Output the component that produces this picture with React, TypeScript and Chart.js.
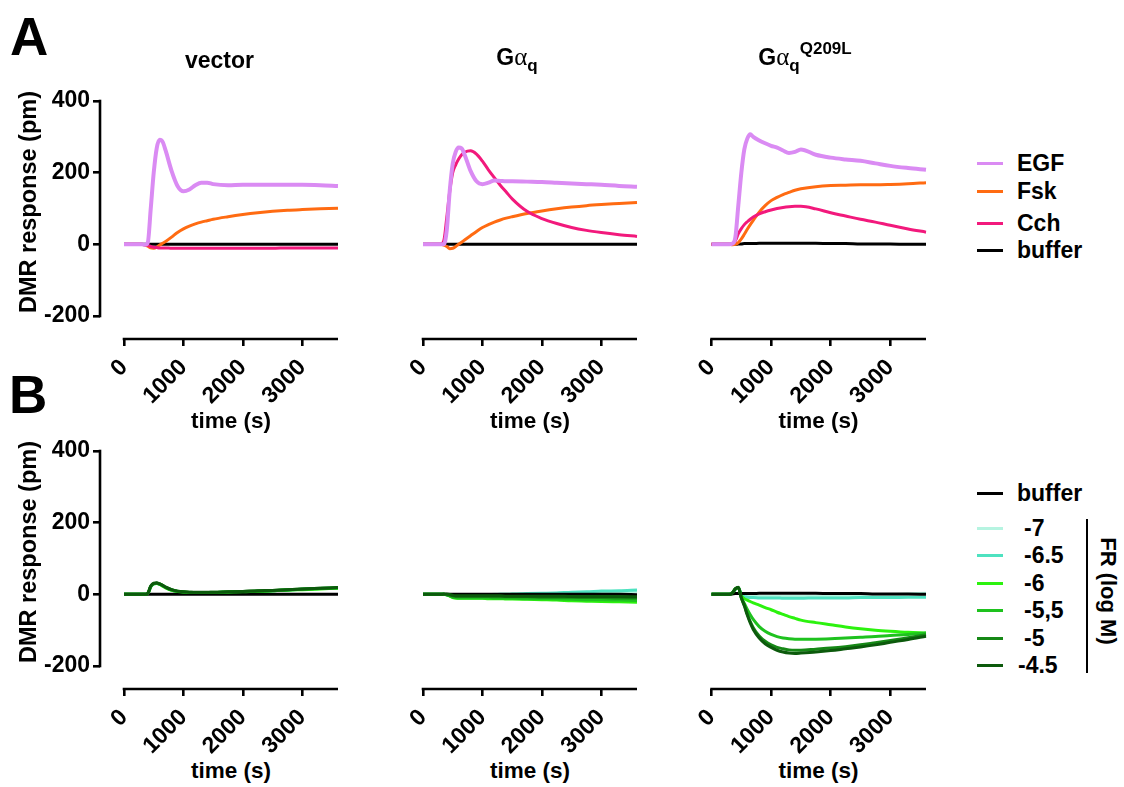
import React, { useEffect, useRef } from "react";
import { Chart, registerables } from "chart.js";

Chart.register(...registerables);

const FONT = '"Liberation Sans", Arial, Helvetica, sans-serif';
Chart.defaults.font.family = FONT;

// ---------- shared axes ----------
const TIME = [0, 300, 350, 400, 450, 500, 550, 600, 650, 700, 800, 900, 1000, 1100, 1200, 1300, 1400, 1500, 1750, 2000, 2250, 2500, 2750, 3000, 3300, 3600];
const X_TICKS = [0, 1000, 2000, 3000];
const Y_TICKS = [-200, 0, 200, 400];
const X_MAX = 3600;
const Y_MAX = 400;
const Y_LOW = -200;

// ---------- A: vector ----------
const VEC_EGF = [0, 0, -1, 5, 100, 200, 268, 292, 286, 262, 205, 163, 148, 153, 165, 172, 172, 168, 165, 166, 166, 166, 166, 166, 165, 163];
const VEC_FSK = [0, 0, -2, -5, -10, -11, -8, -2, 3, 8, 20, 33, 43, 51, 57, 62, 66, 70, 77, 83, 88, 92, 95, 97, 99, 101];
const VEC_CCH = [0, 0, -1, -3, -6, -8, -9, -10, -10, -10, -11, -11, -11, -11, -11, -11, -11, -11, -11, -11, -11, -11, -10, -10, -10, -10];
const VEC_BUF = [0, 0, 0, 0, 0, 0, 0, 0, 0, 0, 0, 0, 0, 0, 0, 0, 0, 0, 0, 0, 0, 0, 0, 0, 0, 0];

// ---------- A: Gaq ----------
const GQ_EGF = [0, 0, 0, 40, 150, 225, 258, 270, 268, 250, 205, 176, 168, 172, 178, 177, 176, 176, 175, 174, 172, 170, 168, 166, 163, 161];
const GQ_FSK = [0, 0, -2, -6, -12, -11, -6, 0, 6, 12, 24, 36, 47, 55, 62, 68, 73, 77, 86, 93, 99, 104, 108, 111, 114, 117];
const GQ_CCH = [0, 0, 10, 75, 148, 200, 222, 238, 250, 257, 261, 252, 232, 208, 186, 165, 146, 127, 92, 72, 58, 47, 39, 33, 27, 22];
const GQ_BUF = [0, 0, 0, 0, 0, 0, 0, 0, 0, 0, 0, 0, 0, 0, 0, 0, 0, 0, 0, 0, 0, 0, 0, 0, 0, 0];

// ---------- A: Gaq Q209L ----------
const QL_EGF = [0, 0, 2, 20, 110, 200, 265, 295, 307, 300, 290, 282, 275, 270, 262, 255, 258, 265, 250, 242, 237, 233, 226, 219, 213, 208];
const QL_FSK = [0, 0, -1, 0, 5, 15, 28, 42, 55, 67, 90, 108, 122, 131, 139, 145, 151, 155, 161, 164, 165, 166, 166, 167, 169, 172];
const QL_CCH = [0, 0, 2, 10, 30, 44, 55, 63, 70, 76, 85, 91, 96, 100, 103, 105, 106, 106, 99, 88, 79, 70, 62, 53, 43, 34];
const QL_BUF = [0, 0, 0, 0, 1, 1, 2, 2, 2, 2, 3, 3, 3, 3, 3, 3, 3, 3, 3, 2, 2, 1, 1, 1, 0, 0];

// ---------- B: vector + FR ----------
const VEC_FR_BUF = [0, 0, 0, 0, 0, 0, 0, 0, 0, 0, 0, 0, 0, 0, 0, 0, 0, 0, 0, 0, 0, 0, 0, 0, 0, 0];
const VEC_FR_7 = [0, 0, 0, 2, 20, 28, 30, 28, 24, 19, 12, 8, 6, 5, 5, 5, 5, 5, 6, 7, 9, 10, 12, 14, 16, 18];
const VEC_FR_65 = [0, 0, 0, 2, 21, 29, 31, 28, 24, 19, 12, 8, 6, 5, 5, 5, 5, 5, 6, 7, 8, 10, 12, 14, 16, 18];
const VEC_FR_6 = [0, 0, 0, 2, 21, 29, 30, 28, 23, 18, 11, 8, 6, 5, 4, 4, 5, 5, 6, 7, 8, 10, 12, 13, 15, 17];
const VEC_FR_55 = [0, 0, 0, 2, 22, 30, 31, 29, 24, 19, 12, 8, 6, 5, 5, 5, 5, 5, 6, 7, 9, 10, 12, 14, 16, 18];
const VEC_FR_5 = [0, 0, 0, 3, 22, 30, 31, 29, 25, 20, 13, 9, 7, 6, 5, 5, 5, 6, 7, 8, 9, 11, 13, 15, 17, 19];
const VEC_FR_45 = [0, 0, 0, 3, 23, 31, 32, 29, 25, 20, 13, 9, 7, 6, 6, 6, 6, 6, 7, 8, 10, 11, 13, 15, 17, 19];

// ---------- B: Gaq + FR ----------
const GQ_FR_BUF = [0, 0, 0, 0, 0, 0, 0, 0, 0, 0, 0, 0, 0, 0, 0, 0, 0, 0, 0, 0, 0, 0, 0, 0, 0, -1];
const GQ_FR_7 = [0, 0, 0, -1, -3, -4, -4, -3, -3, -3, -2, -2, -1, -1, 0, 0, 0, 1, 1, 2, 3, 4, 5, 6, 7, 8];
const GQ_FR_65 = [0, 0, 0, -1, -3, -5, -5, -4, -4, -3, -3, -2, -2, -1, -1, 0, 0, 1, 2, 3, 4, 6, 7, 9, 10, 12];
const GQ_FR_6 = [0, 0, 0, -1, -5, -9, -11, -11, -11, -11, -11, -11, -11, -12, -12, -12, -13, -13, -14, -15, -16, -18, -19, -20, -21, -22];
const GQ_FR_55 = [0, 0, 0, -1, -4, -8, -9, -10, -10, -10, -10, -10, -10, -10, -11, -11, -11, -11, -12, -12, -13, -14, -15, -15, -16, -17];
const GQ_FR_5 = [0, 0, 0, -1, -3, -5, -6, -6, -6, -6, -6, -6, -6, -6, -7, -7, -7, -7, -7, -8, -8, -8, -9, -9, -10, -10];
const GQ_FR_45 = [0, 0, 1, 1, 0, -3, -4, -4, -4, -4, -4, -4, -4, -4, -4, -4, -5, -5, -5, -5, -5, -6, -6, -6, -6, -7];

// ---------- B: Gaq Q209L + FR ----------
const QL_FR_BUF = [0, 0, 1, 2, 2, 2, 2, 2, 2, 2, 3, 3, 3, 3, 3, 3, 3, 3, 3, 2, 2, 2, 1, 1, 1, 0];
const QL_FR_7 = [0, 0, 4, 14, 18, 3, -3, -5, -6, -6, -6, -6, -6, -6, -6, -6, -6, -6, -5, -5, -4, -3, -2, -1, 1, 3];
const QL_FR_65 = [0, 0, 4, 14, 18, 0, -6, -8, -9, -9, -10, -10, -10, -10, -11, -11, -11, -11, -10, -10, -10, -9, -9, -9, -8, -8];
const QL_FR_6 = [0, 0, 4, 15, 18, -4, -12, -16, -20, -24, -30, -37, -43, -50, -56, -62, -67, -72, -79, -85, -91, -96, -100, -103, -106, -108];
const QL_FR_55 = [0, 0, 4, 15, 19, -8, -25, -42, -57, -70, -90, -103, -112, -118, -122, -124, -125, -125, -125, -124, -122, -120, -118, -115, -112, -108];
const QL_FR_5 = [0, 0, 4, 15, 19, -10, -30, -55, -76, -93, -116, -131, -141, -148, -152, -155, -156, -156, -153, -150, -146, -141, -135, -129, -121, -113];
const QL_FR_45 = [0, 0, 4, 16, 20, -10, -32, -58, -80, -98, -122, -138, -148, -156, -161, -164, -165, -164, -161, -157, -152, -147, -141, -134, -126, -117];

// ---------- styling ----------
const C_EGF = "#DA8BF3";
const C_FSK = "#FF6B12";
const C_CCH = "#F2197C";
const C_BUF = "#000000";
const C_FR7 = "#B6F4E1";
const C_FR65 = "#4EE2C0";
const C_FR6 = "#2CF20E";
const C_FR55 = "#1EC21E";
const C_FR5 = "#168816";
const C_FR45 = "#0C5A0C";

const AXIS_W = 2.6;
const TICK_SIZE = 23;
const TXT = 23;
// axis pixel geometry (derived from layout): y axis line sits 24px left of x=0, x axis 23px below y=-200
const X_MIN = -X_MAX * 24 / 214;
const Y_MIN = Y_MAX - (Y_MAX - Y_LOW) * 238 / 215;

type S = { label: string; values: number[]; color: string; width: number; order: number };

const rowA = (egf: number[], fsk: number[], cch: number[], buf: number[]): S[] => [
  { label: "EGF", values: egf, color: C_EGF, width: 4, order: 0 },
  { label: "Fsk", values: fsk, color: C_FSK, width: 3, order: 2 },
  { label: "Cch", values: cch, color: C_CCH, width: 3, order: 1 },
  { label: "buffer", values: buf, color: C_BUF, width: 3, order: 3 },
];
const rowB = (buf: number[], f7: number[], f65: number[], f6: number[], f55: number[], f5: number[], f45: number[]): S[] => [
  { label: "buffer", values: buf, color: C_BUF, width: 3, order: 3 },
  { label: "-7", values: f7, color: C_FR7, width: 3, order: 6 },
  { label: "-6.5", values: f65, color: C_FR65, width: 3, order: 5 },
  { label: "-6", values: f6, color: C_FR6, width: 3, order: 4 },
  { label: "-5,5", values: f55, color: C_FR55, width: 3, order: 2 },
  { label: "-5", values: f5, color: C_FR5, width: 3, order: 1 },
  { label: "-4.5", values: f45, color: C_FR45, width: 3, order: 0 },
];

const COLS = [
  { left: 0, width: 345, padL: 0, padR: 7, showY: true },
  { left: 380, width: 265, padL: 19, padR: 8, showY: false },
  { left: 670, width: 265, padL: 17.5, padR: 9, showY: false },
];
const ROW_TOPS = [60, 410];
const CANVAS_H = 346;
const X_AXIS_H = 67;

const PANELS = [
  { row: 0, col: 0, series: rowA(VEC_EGF, VEC_FSK, VEC_CCH, VEC_BUF) },
  { row: 0, col: 1, series: rowA(GQ_EGF, GQ_FSK, GQ_CCH, GQ_BUF) },
  { row: 0, col: 2, series: rowA(QL_EGF, QL_FSK, QL_CCH, QL_BUF) },
  { row: 1, col: 0, series: rowB(VEC_FR_BUF, VEC_FR_7, VEC_FR_65, VEC_FR_6, VEC_FR_55, VEC_FR_5, VEC_FR_45) },
  { row: 1, col: 1, series: rowB(GQ_FR_BUF, GQ_FR_7, GQ_FR_65, GQ_FR_6, GQ_FR_55, GQ_FR_5, GQ_FR_45) },
  { row: 1, col: 2, series: rowB(QL_FR_BUF, QL_FR_7, QL_FR_65, QL_FR_6, QL_FR_55, QL_FR_5, QL_FR_45) },
];

const offsetAxes = {
  id: "offsetAxes",
  afterDraw(chart: any, _args: any, opts: any) {
    const { ctx, chartArea } = chart;
    const xs = chart.scales.x;
    const ys = chart.scales.y;
    ctx.save();
    ctx.strokeStyle = "#000";
    ctx.lineWidth = AXIS_W;
    ctx.lineCap = "butt";
    ctx.beginPath();
    ctx.moveTo(xs.getPixelForValue(0) - AXIS_W / 2, chartArea.bottom);
    ctx.lineTo(xs.getPixelForValue(X_MAX), chartArea.bottom);
    ctx.stroke();
    if (opts && opts.showY) {
      ctx.beginPath();
      ctx.moveTo(chartArea.left, ys.getPixelForValue(Y_MAX) - AXIS_W / 2);
      ctx.lineTo(chartArea.left, ys.getPixelForValue(Y_LOW) + AXIS_W / 2);
      ctx.stroke();
    }
    ctx.restore();
  },
};

function Panel({ row, col, series }: { row: number; col: number; series: S[] }) {
  const ref = useRef<HTMLCanvasElement>(null);
  const c = COLS[col];
  const top = ROW_TOPS[row];
  useEffect(() => {
    const tickFont = { size: TICK_SIZE, weight: "bold" as const, family: FONT };
    const chart = new Chart(ref.current as HTMLCanvasElement, {
      type: "line",
      data: {
        datasets: series.map((s) => ({
          label: s.label,
          data: TIME.map((t, i) => ({ x: t, y: s.values[i] })),
          borderColor: s.color,
          backgroundColor: s.color,
          borderWidth: s.width,
          pointRadius: 0,
          cubicInterpolationMode: "monotone" as const,
          order: s.order,
          clip: false as any,
        })),
      },
      options: {
        responsive: false,
        animation: false,
        devicePixelRatio: 1,
        layout: { padding: { left: c.padL, right: c.padR, top: 41, bottom: 0 } },
        plugins: {
          legend: { display: false },
          tooltip: { enabled: false },
          offsetAxes: { showY: c.showY },
        } as any,
        scales: {
          x: {
            type: "linear",
            bounds: "data",
            min: X_MIN,
            max: X_MAX,
            afterBuildTicks: (s: any) => {
              s.ticks = X_TICKS.map((v) => ({ value: v }));
            },
            afterFit: (s: any) => {
              s.height = X_AXIS_H;
            },
            border: { display: false },
            grid: { display: true, drawOnChartArea: false, drawTicks: true, tickLength: 7, color: "#000", lineWidth: AXIS_W },
            ticks: {
              autoSkip: false,
              minRotation: 45,
              maxRotation: 45,
              color: "#000",
              padding: 8,
              font: tickFont,
              callback: (v: any) => String(v),
            },
          },
          y: {
            type: "linear",
            display: c.showY,
            bounds: "data",
            min: Y_MIN,
            max: Y_MAX,
            afterBuildTicks: (s: any) => {
              s.ticks = Y_TICKS.map((v) => ({ value: v }));
            },
            afterFit: (s: any) => {
              s.width = c.showY ? 100 : 0;
            },
            border: { display: false },
            grid: { display: true, drawOnChartArea: false, drawTicks: true, tickLength: 7, color: "#000", lineWidth: AXIS_W },
            ticks: {
              autoSkip: false,
              color: "#000",
              padding: 3,
              font: tickFont,
              callback: (v: any) => String(v),
            },
          },
        },
      } as any,
      plugins: [offsetAxes as any],
    });
    return () => chart.destroy();
  }, []);
  return (
    <canvas
      ref={ref}
      width={c.width}
      height={CANVAS_H}
      style={{ position: "absolute", left: c.left, top, width: c.width, height: CANVAS_H }}
    />
  );
}

const BASE = 0.8465;
function Txt({ x, y, size = TXT, align = "left", children, style }: any) {
  const tx = align === "center" ? "-50%" : align === "right" ? "-100%" : "0";
  return (
    <div
      style={{
        position: "absolute",
        left: x,
        top: y - BASE * size,
        fontSize: size,
        lineHeight: `${size}px`,
        whiteSpace: "nowrap",
        transform: `translateX(${tx})`,
        ...style,
      }}
    >
      {children}
    </div>
  );
}
function VTxt({ cx, cy, size = TXT, rot = -90, children }: any) {
  return (
    <div
      style={{
        position: "absolute",
        left: cx,
        top: cy,
        fontSize: size,
        lineHeight: `${size}px`,
        whiteSpace: "nowrap",
        transform: `translate(-50%, -50%) rotate(${rot}deg)`,
      }}
    >
      {children}
    </div>
  );
}
const Alpha = () => <span style={{ fontFamily: '"Liberation Serif", "DejaVu Serif", serif', fontWeight: 400, fontSize: 25 }}>α</span>;
const Sub = ({ children }: any) => <span style={{ fontSize: 17, position: "relative", top: 6 }}>{children}</span>;
const Sup = ({ children }: any) => <span style={{ fontSize: 17, position: "relative", top: -11 }}>{children}</span>;

const LEGEND_A = [
  { label: "EGF", color: C_EGF },
  { label: "Fsk", color: C_FSK },
  { label: "Cch", color: C_CCH },
  { label: "buffer", color: C_BUF },
];
const LEGEND_A_Y = [163, 191, 223, 250];
const LEGEND_B = [
  { label: "buffer", color: C_BUF },
  { label: "-7", color: C_FR7 },
  { label: "-6.5", color: C_FR65 },
  { label: "-6", color: C_FR6 },
  { label: "-5,5", color: C_FR55 },
  { label: "-5", color: C_FR5 },
  { label: "-4.5", color: C_FR45 },
];
const LEGEND_B_Y = [493, 528, 555, 583, 610, 638, 665];
const LEGEND_B_X = [1017, 1024, 1024, 1024, 1024, 1024, 1018];

function LegendItem({ y, x, color, label }: any) {
  return (
    <>
      <div style={{ position: "absolute", left: 977, top: y - 1.5, width: 26, height: 3, background: color }} />
      <Txt x={x} y={y + 8.5}>{label}</Txt>
    </>
  );
}

export default function App() {
  return (
    <div
      style={{
        position: "absolute",
        left: 0,
        top: 0,
        width: 1124,
        height: 787,
        background: "#fff",
        overflow: "hidden",
        fontFamily: FONT,
        fontWeight: 700,
        color: "#000",
      }}
    >
      {PANELS.map((p, i) => (
        <Panel key={i} row={p.row} col={p.col} series={p.series} />
      ))}

      <Txt x={10} y={55} size={53}>A</Txt>
      <Txt x={9} y={413} size={53}>B</Txt>

      <Txt x={219.5} y={68} align="center">vector</Txt>
      <Txt x={517} y={64} align="center">
        G<Alpha />
        <Sub>q</Sub>
      </Txt>
      <Txt x={805} y={64} align="center">
        G<Alpha />
        <Sub>q</Sub>
        <Sup>Q209L</Sup>
      </Txt>

      <VTxt cx={29} cy={202} size={23.5}>DMR response (pm)</VTxt>
      <VTxt cx={29} cy={552} size={23.5}>DMR response (pm)</VTxt>

      <Txt x={231} y={429} size={22.5} align="center">time (s)</Txt>
      <Txt x={530} y={429} size={22.5} align="center">time (s)</Txt>
      <Txt x={818.5} y={429} size={22.5} align="center">time (s)</Txt>
      <Txt x={231} y={779} size={22.5} align="center">time (s)</Txt>
      <Txt x={530} y={779} size={22.5} align="center">time (s)</Txt>
      <Txt x={818.5} y={779} size={22.5} align="center">time (s)</Txt>

      {LEGEND_A.map((l, i) => (
        <LegendItem key={"a" + i} y={LEGEND_A_Y[i]} x={1017} color={l.color} label={l.label} />
      ))}
      {LEGEND_B.map((l, i) => (
        <LegendItem key={"b" + i} y={LEGEND_B_Y[i]} x={LEGEND_B_X[i]} color={l.color} label={l.label} />
      ))}
      <div style={{ position: "absolute", left: 1085.5, top: 519, width: 2.6, height: 154, background: "#000" }} />
      <VTxt cx={1108} cy={591} size={22} rot={90}>FR (log M)</VTxt>
    </div>
  );
}
